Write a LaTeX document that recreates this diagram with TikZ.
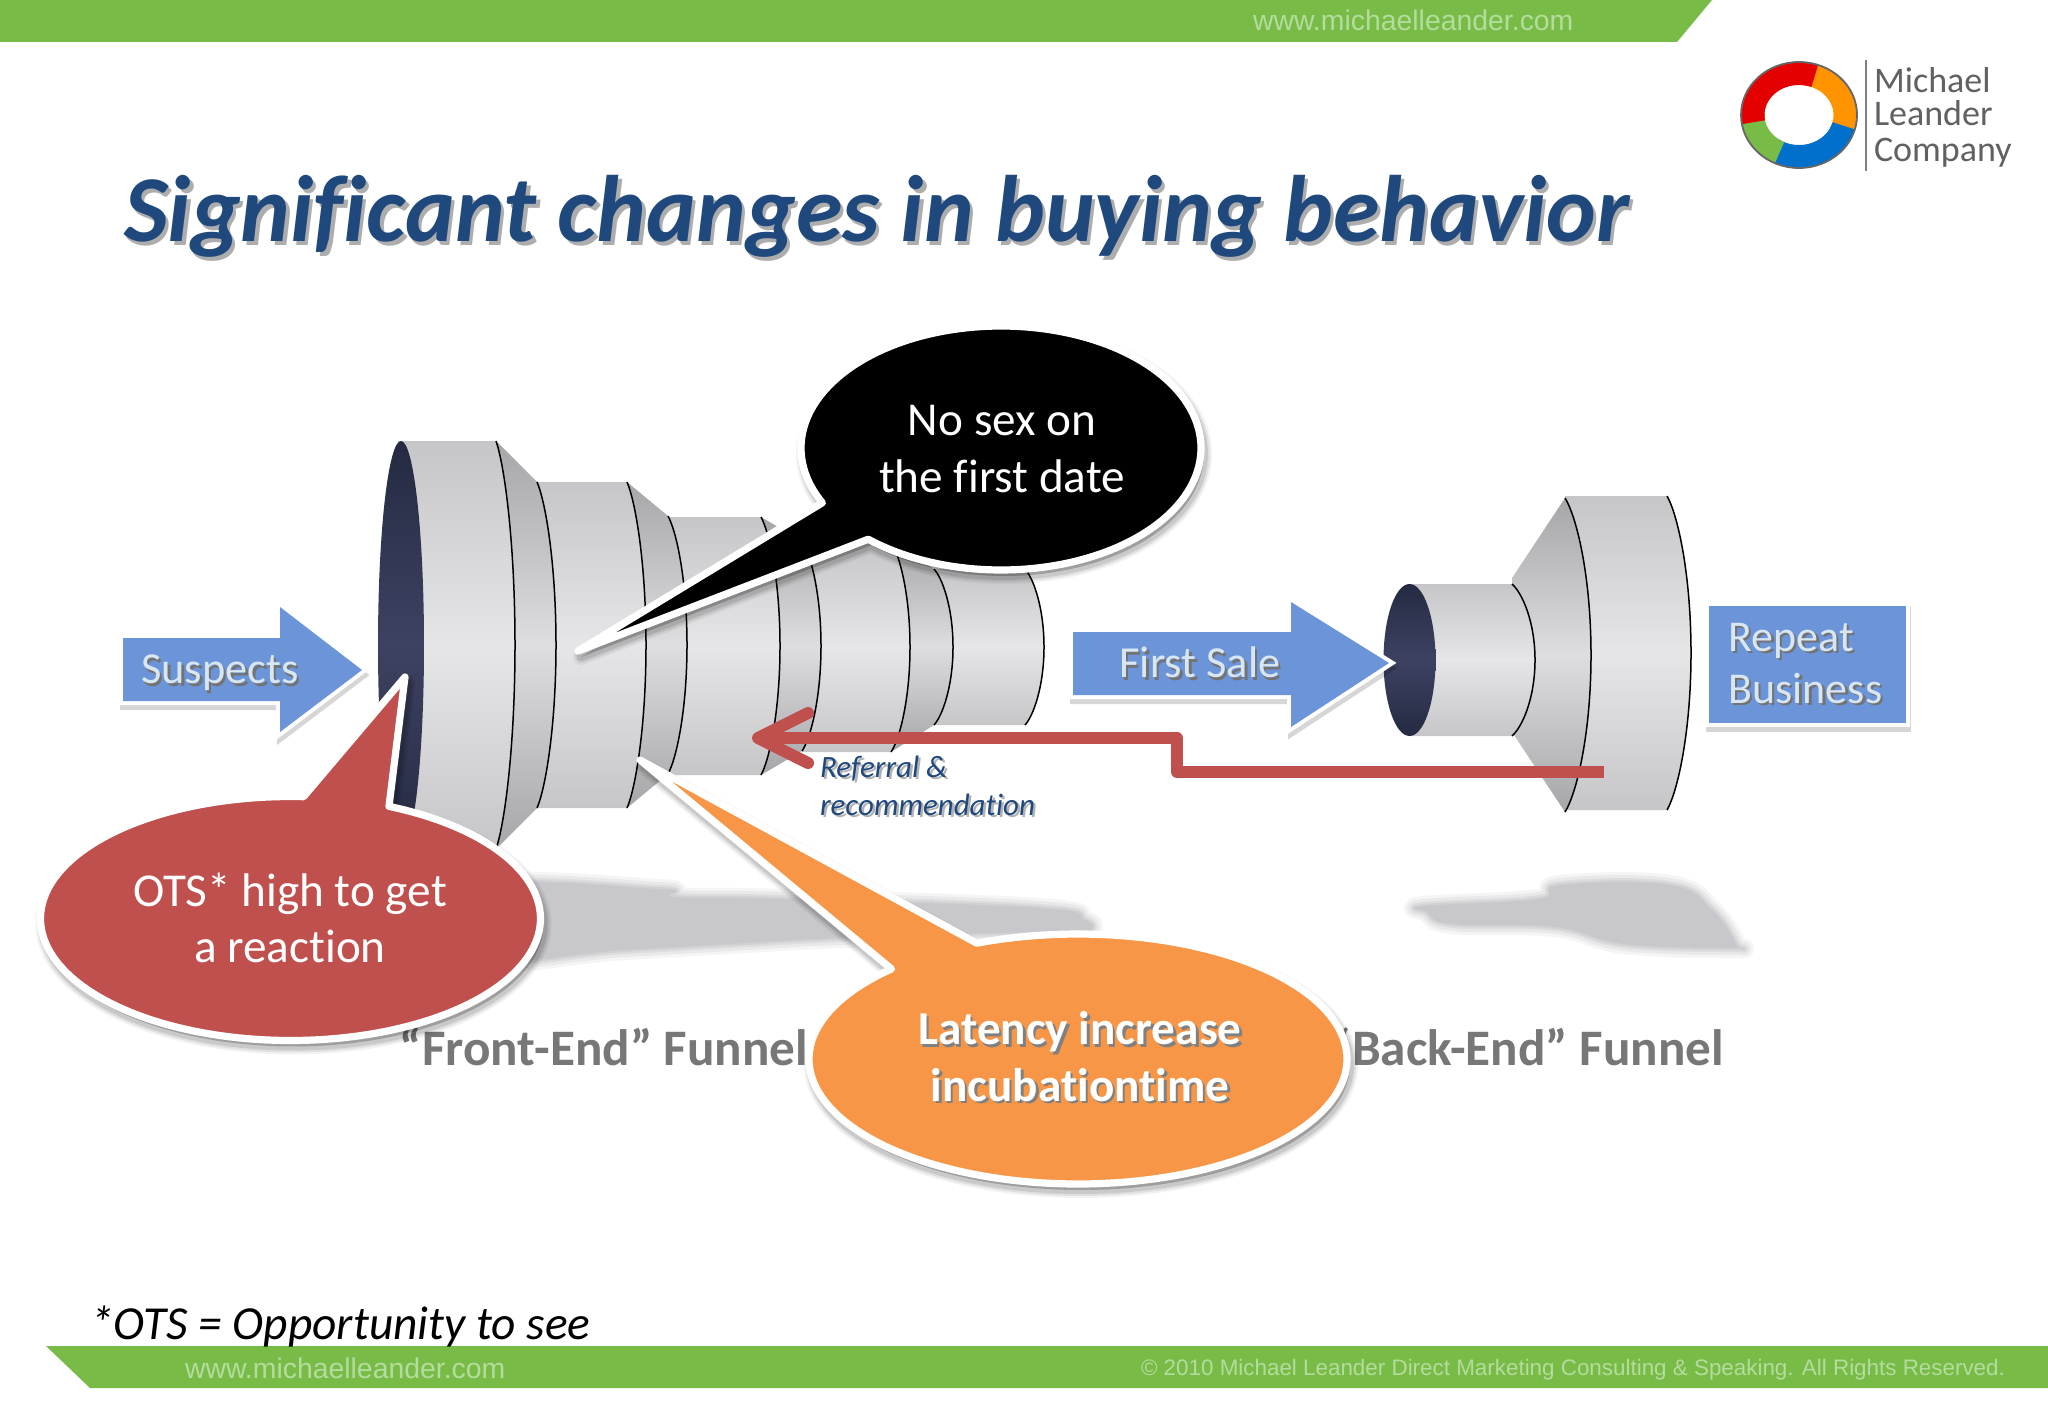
\documentclass[tikz,border=0pt]{standalone}
\usepackage{fontspec}
\setmainfont[Ligatures=NoCommon]{Carlito}
\newfontfamily\arialf{Liberation Sans}
\usetikzlibrary{arrows.meta}
\definecolor{barG}{HTML}{78BC47}
\definecolor{barT}{HTML}{B4DC9C}
\definecolor{navy}{HTML}{1F497D}
\definecolor{redC}{HTML}{C0504D}
\definecolor{oraC}{HTML}{F79646}
\definecolor{bluA}{HTML}{6C94D8}
\definecolor{bluT}{HTML}{D8E6F2}
\definecolor{grT}{HTML}{777777}
\definecolor{cylE}{HTML}{C6C6C9}
\definecolor{cylM}{HTML}{E6E6E8}
\definecolor{conE}{HTML}{A6A6A8}
\definecolor{conM}{HTML}{DEDEE0}
\definecolor{shad}{HTML}{C8C8CC}
\definecolor{dark}{HTML}{252A42}
\definecolor{darkM}{HTML}{3D4262}
\tikzset{
  txt/.style={inner sep=0pt,outer sep=0pt},
  bartext/.style={txt,text=barT,font=\arialf\fontsize{14.2}{14}\selectfont},
  rimline/.style={draw=black,line width=0.75pt},
  cyl/.style={top color=cylE,bottom color=cylE,middle color=cylM,draw=none},
  cone/.style={top color=conE,bottom color=conE,middle color=conM,draw=none},
  darkhole/.style={top color=dark,bottom color=dark,middle color=darkM,draw=none},
  callouttext/.style={txt,align=center,text=white,font=\fontsize{23.6}{28.2}\selectfont},
  bluelabel/.style={txt,text=bluT,font=\fontsize{22.2}{26}\selectfont},
  blueedge/.style={draw=white,line width=4pt,line join=miter},
  bluebody/.style={fill=bluA,draw=none},
  bodyshadow/.style={draw=black,line width=4pt,opacity=.16},
  funnellabel/.style={txt,anchor=base,text=grT,font=\bfseries\fontsize{25.6}{26}\selectfont},
  refline/.style={draw=redC,line width=6pt,line join=round},
  logotext/.style={txt,anchor=base west,text=black!62,font=\fontsize{18}{18}\selectfont}
}
\newcommand\shtxt[2]{\leavevmode\rlap{\raisebox{-1.3pt}{\hspace{1.2pt}\textcolor{#1}{#2}}}#2}
\newcommand\shtitle[2]{\leavevmode\rlap{\raisebox{-2pt}{\hspace{1.6pt}\textcolor{#1}{#2}}}#2}
% funnel segment: x1 hh1 x2 hh2 cy rimwidth style
\newcommand\rimpath[4]{% x hh cy w
  (#1,#3-#2) .. controls ({#1+.45*#4},{#3-.88*#2}) and ({#1+#4},{#3-.5*#2}) .. ({#1+#4},#3)
  .. controls ({#1+#4},{#3+.5*#2}) and ({#1+.45*#4},{#3+.88*#2}) .. (#1,#3+#2)}
\newcommand\segm[7]{%
  \path[#7] (#1,#5-#2) -- \rimpath{#3}{#4}{#5}{#6} -- (#1,#5+#2) -- cycle;
  \draw[rimline] \rimpath{#3}{#4}{#5}{#6};
}
% callout: colour cx cy rx ry tipx tipy a1 a2
\newcommand\callout[9]{%
  \foreach \lw/\op in {8/.05,6/.07,4/.1}{
    \draw[shift={(3,6)},fill=black,draw=black,line width=\lw pt,line join=round,opacity=\op]
      (#6,#7) -- plot[domain=#8:#9,samples=160] ({#2+#4*cos(\x)},{#3+#5*sin(\x)}) -- cycle;
  }
  \draw[fill=#1,draw=white,line width=3.6pt,line join=round]
    (#6,#7) -- plot[domain=#8:#9,samples=160] ({#2+#4*cos(\x)},{#3+#5*sin(\x)}) -- cycle;
}
% soft blob shadow
\newcommand\softblob[1]{%
  \foreach \lw/\op in {10/.18,7/.25,4/.35,2/.5}{
    \draw[draw=shad,line width=\lw pt,line join=round,opacity=\op] plot[smooth cycle,tension=.7] coordinates {#1};
  }
  \fill[shad] plot[smooth cycle,tension=.7] coordinates {#1};
}
\newcommand\ringarc[3]{\draw[draw=#1,line width=11.5pt] plot[domain=#2:#3,samples=50] ({1799+46*cos(\x)},{115+41.5*sin(\x)});}
\begin{document}
\begin{tikzpicture}[x=0.5pt,y=-0.5pt]
\useasboundingbox (0,0) rectangle (2048,1418);
\fill[white] (0,0) rectangle (2048,1418);
% bars
\fill[barG] (0,0) -- (1712,0) -- (1677,42) -- (0,42) -- cycle;
\fill[barG] (46,1346) -- (2048,1346) -- (2048,1388) -- (90,1388) -- cycle;
\node[bartext,anchor=base west] (topurl) at (1253,31) {www.michaelleander.com};
\node[bartext,anchor=base west] (boturl) at (185,1378) {www.michaelleander.com};
\node[bartext,anchor=base east,font=\arialf\fontsize{11.2}{12}\selectfont] (copy) at (2005,1375) {© 2010 Michael Leander Direct Marketing Consulting \& Speaking. All Rights Reserved.};
% logo
\ringarc{orange!85!yellow}{275}{385}
\ringarc{blue!45!cyan!80!black}{15}{125}
\ringarc{barG}{115}{195}
\ringarc{red!90!black}{170}{290}
\draw[black!60,line width=0.9pt] (1799,115) ellipse [x radius=58,y radius=53];
\draw[black!50,line width=0.7pt] (1866,60) -- (1866,171);
\node[logotext] (lg1) at (1874,93) {Michael};
\node[logotext] (lg2) at (1874,126) {Leander};
\node[logotext] (lg3) at (1874,161) {Company};
% title
\node[txt,anchor=base west,text=navy,font=\bfseries\itshape\fontsize{47.2}{50}\selectfont] (title) at (124,241)
  {\shtitle{black!32}{Significant changes in buying behavior}};
% floor shadows
\softblob{(470,888) (660,889) (676,897) (788,899) (1040,908) (1085,920) (1090,930) (1060,931) (840,938) (747,943) (625,950) (470,958)}
\softblob{(1424,906) (1538,899) (1560,885) (1670,885) (1712,910) (1736,944) (1732,948) (1624,944) (1555,927) (1452,924) (1427,912)}
% front funnel, right to left
\segm{934}{78}{1025}{78}{647}{19}{cyl}
\segm{891}{105}{934}{78}{647}{19}{cone}
\segm{802}{105}{891}{105}{647}{19}{cyl}
\segm{761}{129}{802}{105}{646}{19}{cone}
\segm{668}{129}{761}{129}{646}{19}{cyl}
\segm{627}{163}{668}{129}{645}{19}{cone}
\segm{537}{163}{627}{163}{645}{19}{cyl}
\segm{496}{204}{537}{163}{645}{19}{cone}
\segm{398}{204}{496}{204}{645}{19}{cyl}
\path[darkhole] (401,645) ellipse [x radius=23,y radius=204];
% back funnel
\segm{1565}{157}{1667}{157}{653}{24}{cyl}
\segm{1512}{77}{1565}{157}{655}{26}{cone}
\segm{1409}{76}{1512}{76}{660}{23}{cyl}
\path[darkhole] (1409.5,660) ellipse [x radius=26,y radius=76];
% blue shapes
\draw[bodyshadow,shift={(1,5)}] (123,638) -- (280,638) -- (280,607) -- (362,670) -- (280,732) -- (280,701) -- (123,701) -- cycle;
\draw[blueedge] (123,638) -- (280,638) -- (280,607) -- (362,670) -- (280,732) -- (280,701) -- (123,701) -- cycle;
\path[bluebody] (123,638) -- (280,638) -- (280,607) -- (362,670) -- (280,732) -- (280,701) -- (123,701) -- cycle;
\node[bluelabel] (suspects) at (220,674) {\shtxt{black!55}{Suspects}};
\draw[bodyshadow,shift={(1,5)}] (1073,632) -- (1291,632) -- (1291,602) -- (1389,663) -- (1291,727) -- (1291,695) -- (1073,695) -- cycle;
\draw[blueedge] (1073,632) -- (1291,632) -- (1291,602) -- (1389,663) -- (1291,727) -- (1291,695) -- (1073,695) -- cycle;
\path[bluebody] (1073,632) -- (1291,632) -- (1291,602) -- (1389,663) -- (1291,727) -- (1291,695) -- (1073,695) -- cycle;
\node[bluelabel] (firstsale) at (1200,664) {\shtxt{black!55}{First Sale}};
\draw[bodyshadow,shift={(1,5)}] (1709,606) rectangle (1906,723);
\draw[blueedge] (1709,606) rectangle (1906,723);
\node[txt,fill=bluA,minimum width=98.5pt,minimum height=58.5pt,text width=79pt,align=left,text=bluT,font=\fontsize{22}{26}\selectfont] (repeat) at (1807.5,664.5) {\shtxt{black!55}{Repeat}\\\shtxt{black!55}{Business}};
% referral connector
\coordinate (refsrc) at (1604,772);
\coordinate (refA) at (1177,772);
\coordinate (refB) at (1177,738);
\coordinate (reftip) at (752,738);
\draw[refline,-{Straight Barb[length=25pt,width=25pt,round]}] (refsrc) -- (refA) -- (refB) -- (reftip);
\node[txt,anchor=base west,align=left,text=navy,font=\itshape\fontsize{15.5}{19}\selectfont] (refl) at (820,815) {\shtxt{black!30}{Referral \&}\\\shtxt{black!30}{recommendation}};
% funnel labels
\node[funnellabel] (fe) at (604,1065) {“Front-End” Funnel};
\node[funnellabel,anchor=base east] (be) at (1724,1065) {“Back-End” Funnel};
% callouts
\callout{black}{1001}{448}{200}{122}{578}{651}{153.3}{491.6}
\callout{redC}{290.5}{918.5}{250}{122}{405}{677}{293.2}{633}
\callout{oraC}{1078}{1059}{269}{125}{640}{760}{247.9}{586.1}
\node[callouttext] (c1) at (1002,449) {No sex on\\the first date};
\node[callouttext] (c2) at (290,918) {OTS* high to get\\a reaction};
\node[callouttext,font=\bfseries\fontsize{23.6}{28.2}\selectfont] (c3) at (1080,1058) {\shtxt{black!50}{Latency increase}\\\shtxt{black!50}{incubationtime}};
% footnote
\node[txt,anchor=base west,text=black,font=\itshape\fontsize{23.7}{26}\selectfont] (foot) at (90,1339) {*OTS = Opportunity to see};
\end{tikzpicture}
\end{document}
